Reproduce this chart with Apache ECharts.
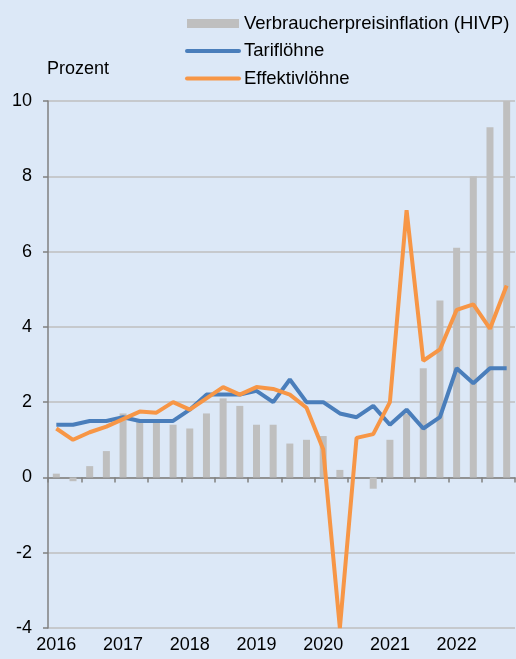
<!DOCTYPE html>
<html>
<head>
<meta charset="utf-8">
<script src="https://cdn.jsdelivr.net/npm/echarts@6/dist/echarts.min.js"></script>
<style>
html,body{margin:0;padding:0;background:#dce8f7;}
#c{width:516px;height:659px;}
</style>
</head>
<body>
<div id="c"></div>
<script>
const quarters = [
  '2016 Q1','2016 Q2','2016 Q3','2016 Q4',
  '2017 Q1','2017 Q2','2017 Q3','2017 Q4',
  '2018 Q1','2018 Q2','2018 Q3','2018 Q4',
  '2019 Q1','2019 Q2','2019 Q3','2019 Q4',
  '2020 Q1','2020 Q2','2020 Q3','2020 Q4',
  '2021 Q1','2021 Q2','2021 Q3','2021 Q4',
  '2022 Q1','2022 Q2','2022 Q3','2022 Q4'
];
const hicp = [0.1,-0.1,0.3,0.7, 1.7,1.5,1.5,1.4, 1.3,1.7,2.1,1.9, 1.4,1.4,0.9,1.0, 1.1,0.2,0.0,-0.3, 1.0,1.7,2.9,4.7, 6.1,8.0,9.3,10.0];
const tarif = [1.4,1.4,1.5,1.5, 1.6,1.5,1.5,1.5, 1.8,2.2,2.2,2.2, 2.3,2.0,2.6,2.0, 2.0,1.7,1.6,1.9, 1.4,1.8,1.3,1.6, 2.9,2.5,2.9,2.9];
const effektiv = [1.3,1.0,1.2,1.35, 1.55,1.75,1.72,2.0, 1.8,2.1,2.4,2.2, 2.4,2.35,2.2,1.85, 0.75,-4.0,1.05,1.15, 2.0,7.1,3.1,3.4, 4.45,4.6,3.95,5.1];
const yTicks = {min:-4, max:10, interval:2};
const names = ['Verbraucherpreisinflation (HIVP)','Tariflöhne','Effektivlöhne'];

const font = 'Liberation Sans, Arial, sans-serif';
const chart = echarts.init(document.getElementById('c'), null, {renderer:'canvas'});
chart.setOption({
  backgroundColor:'#dce8f7',
  animation:false,
  textStyle:{fontFamily:font},
  title:{text:'Prozent', left:42, top:55, textStyle:{fontFamily:font,fontSize:18,fontWeight:'normal',color:'#000'}},
  legend:{
    orient:'vertical', left:180, top:9, itemWidth:52, itemHeight:9, itemGap:8.5,
    textStyle:{fontFamily:font,fontSize:18.5,color:'#000',lineHeight:18},
    lineStyle:{width:4, cap:'round'},
    data:[
      {name:names[0], icon:'rect'},
      {name:names[1], itemStyle:{opacity:0}},
      {name:names[2], itemStyle:{opacity:0}}
    ]
  },
  grid:{left:48, right:1, top:101, bottom:31, containLabel:false},
  xAxis:[
    {type:'category', data:quarters, position:'bottom', boundaryGap:true,
     axisLine:{show:false, onZero:false}, axisTick:{show:false},
     axisLabel:{interval:3, margin:8, fontSize:18, color:'#000', fontFamily:font,
       formatter:v=>v.slice(0,4)}},
    {type:'category', data:quarters, position:'bottom', boundaryGap:true,
     axisLine:{show:true, onZero:true, lineStyle:{color:'#808080', width:1.5}},
     axisTick:{show:true, interval:1, length:5, lineStyle:{color:'#808080', width:1.5}},
     axisLabel:{show:false}}
  ],
  yAxis:{type:'value', min:yTicks.min, max:yTicks.max, interval:yTicks.interval,
    axisLine:{show:true, lineStyle:{color:'#808080', width:1.5}},
    axisTick:{show:true, length:5, lineStyle:{color:'#808080', width:1.5}},
    axisLabel:{margin:16, fontSize:18, color:'#000', fontFamily:font},
    splitLine:{show:true, lineStyle:{color:'#bfbfbf', width:1.5}}
  },
  series:[
    {name:names[0], type:'bar', data:hicp, barWidth:7, itemStyle:{color:'#bfbfbf'}, xAxisIndex:0},
    {name:names[1], type:'line', data:tarif, symbol:'none', showSymbol:false, xAxisIndex:0,
     lineStyle:{color:'#4a7ebb', width:4}, itemStyle:{color:'#4a7ebb'}},
    {name:names[2], type:'line', data:effektiv, symbol:'none', showSymbol:false, xAxisIndex:0,
     lineStyle:{color:'#f79646', width:4}, itemStyle:{color:'#f79646'}}
  ]
});
</script>
</body>
</html>
